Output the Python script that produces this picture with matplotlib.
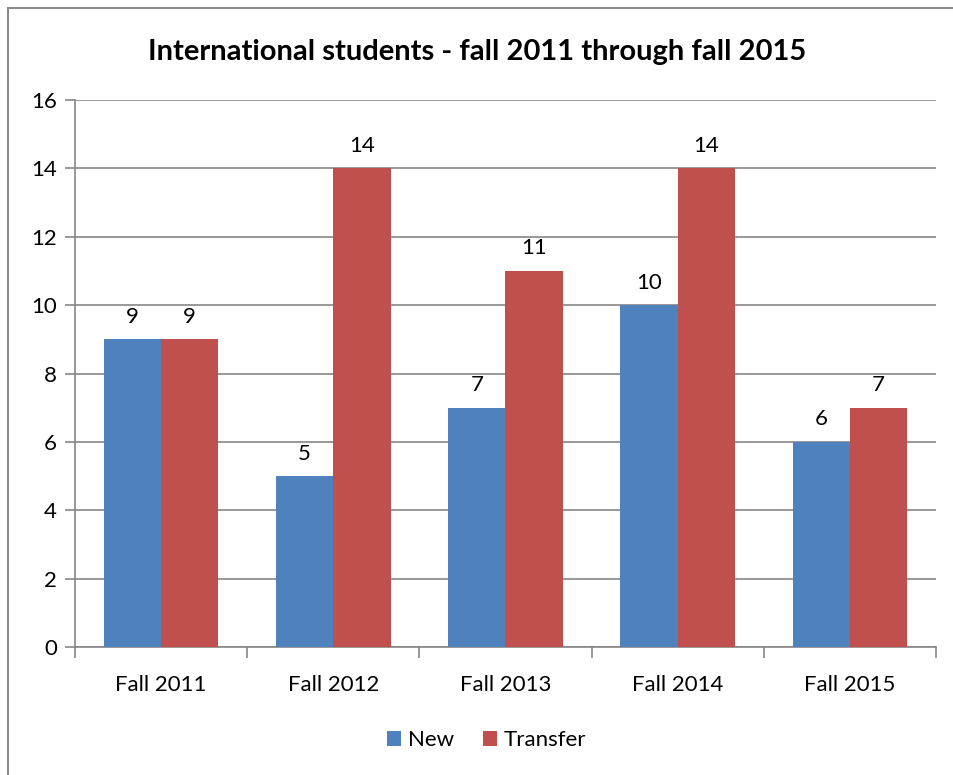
"""International students bar chart, fall 2011 through fall 2015."""

import matplotlib

matplotlib.use("Agg")
import matplotlib.pyplot as plt
import numpy as np
from matplotlib.patches import Rectangle

CATEGORIES = ["Fall 2011", "Fall 2012", "Fall 2013", "Fall 2014", "Fall 2015"]
NEW = [9, 5, 7, 10, 6]
TRANSFER = [9, 14, 11, 14, 7]
Y_TICKS = [0, 2, 4, 6, 8, 10, 12, 14, 16]

BLUE = "#4F81BD"
RED = "#C0504D"
GRID = "#868686"

plt.rcParams["font.family"] = ["Lato", "DejaVu Sans"]

W, H = 954, 775
fig = plt.figure(figsize=(W / 100, H / 100), dpi=100)

# chart frame (cut by the image on right and bottom)
fig.patches.append(
    Rectangle((8 / W, -0.01), 1.02, 1 - 8 / H + 0.01, transform=fig.transFigure,
              fill=False, edgecolor="#8c8c8c", linewidth=1.5)
)

left, right = 75 / W, 936 / W
bottom, top = 1 - 647 / H, 1 - 100 / H
ax = fig.add_axes([left, bottom, right - left, top - bottom])

x = np.arange(len(CATEGORIES))
width = 1 / 3
bars_new = ax.bar(x - width / 2, NEW, width, color=BLUE, label="New", zorder=3)
bars_tr = ax.bar(x + width / 2, TRANSFER, width, color=RED, label="Transfer", zorder=3)

for bars in (bars_new, bars_tr):
    for bar in bars:
        ax.annotate(f"{bar.get_height():g}",
                    (bar.get_x() + bar.get_width() / 2, bar.get_height()),
                    xytext=(0, 9), textcoords="offset points",
                    ha="center", va="bottom", fontsize=16, color="black")

ax.set_xlim(-0.5, len(CATEGORIES) - 0.5)
ax.set_ylim(0, 16)
ax.set_yticks(Y_TICKS)
ax.yaxis.grid(True, color=GRID, linewidth=1.2, zorder=0)
ax.set_axisbelow(True)

ax.set_xticks(x)
ax.set_xticklabels(CATEGORIES, fontsize=16)
ax.set_xticks(np.arange(len(CATEGORIES) + 1) - 0.5, minor=True)
ax.tick_params(axis="x", which="major", length=0, pad=20)
ax.tick_params(axis="x", which="minor", length=8, width=1.2, color=GRID)
ax.tick_params(axis="y", length=7, width=1.2, color=GRID, labelsize=16, pad=6)

for side in ("top", "right"):
    ax.spines[side].set_visible(False)
for side in ("left", "bottom"):
    ax.spines[side].set_color(GRID)
    ax.spines[side].set_linewidth(1.2)

fig.text(0.5 * (8 / W + 1) - 0.004, 1 - 52 / H,
         "International students - fall 2011 through fall 2015",
         ha="center", va="center", fontsize=21, fontweight="bold")

fig.legend(handles=[bars_new, bars_tr], labels=["New", "Transfer"],
           loc="center", bbox_to_anchor=(0.51, 1 - 740 / H), ncol=2,
           frameon=False, fontsize=16, handlelength=0.65, handleheight=0.65,
           handletextpad=0.3, columnspacing=1.3)

fig.savefig("out.png", dpi=100)
